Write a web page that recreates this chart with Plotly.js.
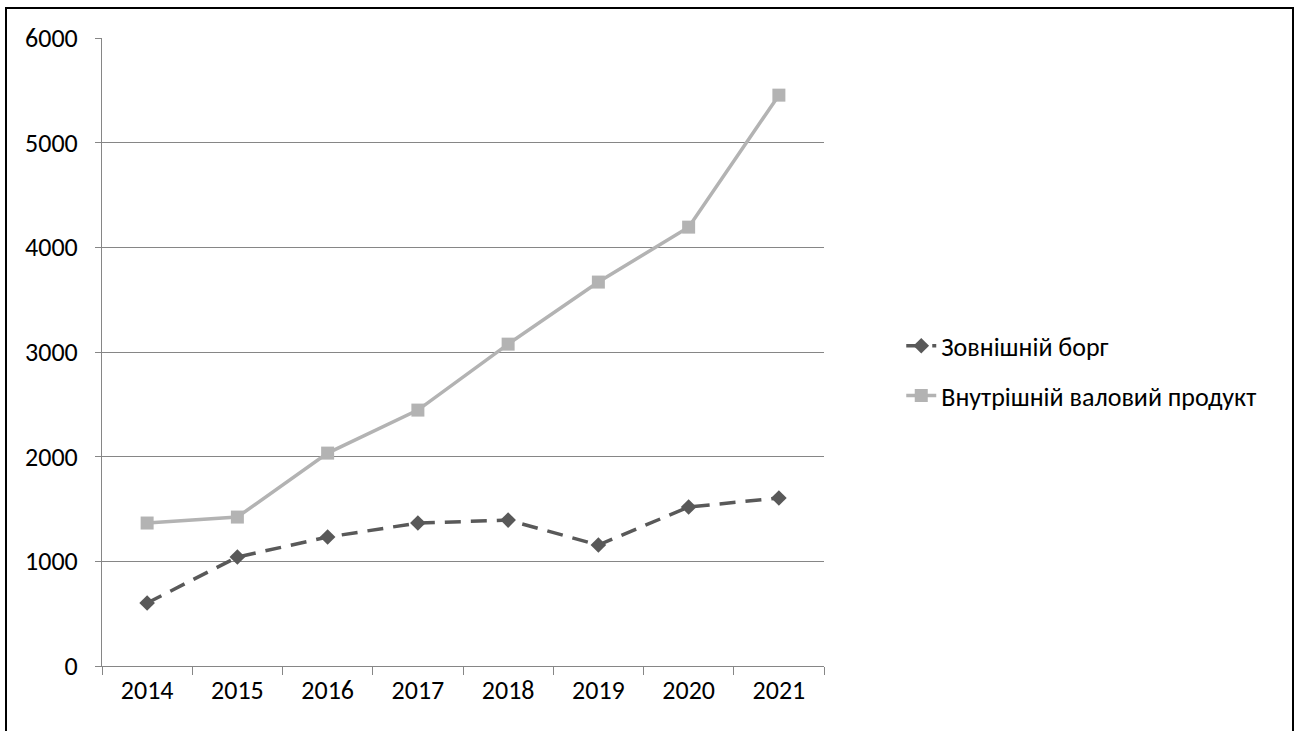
<!DOCTYPE html>
<html>
<head>
<meta charset="utf-8">
<script src="https://cdn.plot.ly/plotly-3.0.1.min.js"></script>
<style>
html,body{margin:0;padding:0;background:#fff;overflow:hidden;}
#chart{width:1294px;height:731px;position:absolute;left:0;top:0;}
#frame{position:absolute;left:5px;top:7px;width:1285px;height:800px;border:2px solid #000;border-bottom:none;pointer-events:none;}
</style>
</head>
<body>
<div id="chart"></div>
<div id="frame"></div>
<script>
const years = ["2014","2015","2016","2017","2018","2019","2020","2021"];
const externalDebt = [602, 1041, 1232, 1366, 1394, 1156, 1519, 1605];
const gdp = [1366, 1423, 2034, 2445, 3075, 3668, 4193, 5454];
const seriesNames = ["Зовнішній борг", "Внутрішній валовий продукт"];

const font = "Carlito, Lato, 'Open Sans', sans-serif";

const traces = [
  {
    x: years, y: externalDebt, name: seriesNames[0], type: "scatter", mode: "lines+markers",
    line: {color: "#595959", width: 3.5, dash: "16px,10px"},
    marker: {symbol: "diamond", size: 12, color: "#595959"},
    legendgroup: "a"
  },
  {
    x: years, y: gdp, name: seriesNames[1], type: "scatter", mode: "lines+markers",
    line: {color: "#b3b3b3", width: 3.5},
    marker: {symbol: "square", size: 13, color: "#b3b3b3"},
    legendgroup: "b"
  }
];

const layout = {
  width: 1294, height: 731,
  margin: {l: 102, r: 470, t: 38, b: 65},
  paper_bgcolor: "#fff", plot_bgcolor: "#fff",
  font: {family: font, size: 26, color: "#000"},
  showlegend: true,
  legend: {x: 1.107, y: 0.47, xanchor: "left", yanchor: "middle",
           traceorder: "grouped", tracegroupgap: 13, font: {size: 26, family: font}},
  xaxis: {
    type: "category", range: [-0.5, 7.5],
    showline: true, linecolor: "#868686", linewidth: 1,
    showgrid: false, zeroline: false,
    ticks: "outside", tickson: "boundaries", ticklen: 8, tickcolor: "#868686",
    ticklabelstandoff: 1,
    tickfont: {size: 26, family: font}
  },
  yaxis: {
    range: [0, 6000], dtick: 1000, tick0: 0,
    showline: true, linecolor: "#868686", linewidth: 1,
    showgrid: true, gridcolor: "#868686", gridwidth: 1, zeroline: false,
    ticks: "outside", ticklen: 6, tickcolor: "#868686",
    ticklabelstandoff: 12,
    tickfont: {size: 26, family: font}
  }
};

Plotly.newPlot("chart", traces, layout, {displayModeBar: false, staticPlot: true});
</script>
</body>
</html>
